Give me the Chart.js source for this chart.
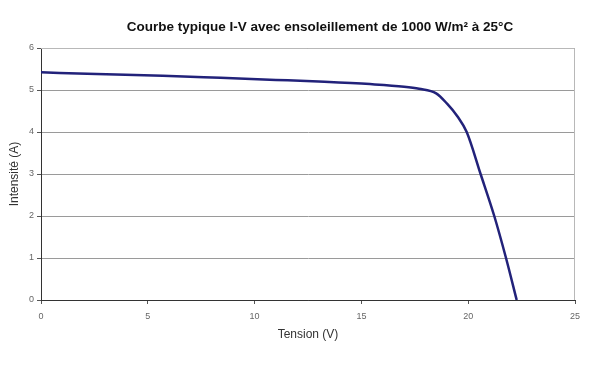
<!DOCTYPE html>
<html><head><meta charset="utf-8">
<script src="https://cdn.jsdelivr.net/npm/chart.js@4"></script>
<style>html,body{margin:0;padding:0;background:#fff}#wrap{width:593px;height:372px}</style>
</head><body><div id="wrap"><canvas id="c" width="593" height="372"></canvas></div>
<script>
const titleText = "Courbe typique I-V avec ensoleillement de 1000 W/m² à 25°C";
const xTitle = "Tension (V)";
const yTitle = "Intensité (A)";
const tensionV = [0, 2.6, 5.7, 8.4, 11, 13, 15.4, 17, 17.7, 18.5, 19.0, 19.5, 19.93, 20.58, 21.22, 21.77, 22.27];
const intensiteA = [5.42, 5.38, 5.34, 5.29, 5.24, 5.20, 5.14, 5.08, 5.03, 4.92, 4.68, 4.37, 4.00, 3.00, 2.00, 1.00, 0];
const xTicks = [0, 5, 10, 15, 20, 25];
const yTicks = [0, 1, 2, 3, 4, 5, 6];

const points = tensionV.map((v, i) => ({x: v, y: intensiteA[i]}));

const titlePlugin = {
  id: 'customTitle',
  afterDraw(chart) {
    const ctx = chart.ctx;
    ctx.save();
    ctx.font = 'bold 13.5px "Liberation Sans", Arial, sans-serif';
    ctx.fillStyle = '#111';
    ctx.textAlign = 'center';
    ctx.textBaseline = 'middle';
    ctx.fillText(titleText, 320, 27);
    ctx.restore();
  }
};
const borderPlugin = {
  id: 'plotBorder',
  beforeDatasetsDraw(chart) {
    const {ctx, chartArea: a} = chart;
    ctx.save();
    ctx.strokeStyle = '#b8b8b8';
    ctx.lineWidth = 1;
    ctx.beginPath();
    ctx.moveTo(a.left, a.top + 0.5);
    ctx.lineTo(a.right - 0.5, a.top + 0.5);
    ctx.lineTo(a.right - 0.5, a.bottom);
    ctx.stroke();
    ctx.restore();
  }
};

new Chart(document.getElementById('c'), {
  type: 'scatter',
  data: {
    datasets: [{
      data: points,
      showLine: true,
      borderColor: '#22227a',
      borderWidth: 2.5,
      pointRadius: 0,
      cubicInterpolationMode: 'monotone',
      fill: false
    }]
  },
  options: {
    responsive: false,
    animation: false,
    devicePixelRatio: 1,
    layout: {padding: {top: 48, right: 18, bottom: 26, left: 3}},
    plugins: {legend: {display: false}, tooltip: {enabled: false}, title: {display: false}},
    scales: {
      x: {
        type: 'linear', min: 0, max: 25,
        afterBuildTicks(s) { s.ticks = xTicks.map(v => ({value: v})); },
        afterFit(s) { s.height = 46; },
        grid: {display: true, drawOnChartArea: false, drawTicks: true, tickLength: 4, color: '#555'},
        border: {display: true, color: '#333', width: 1},
        ticks: {color: '#666', font: {size: 9, family: '"Liberation Sans", Arial, sans-serif'}, padding: 7, maxRotation: 0},
        title: {display: true, text: xTitle, color: '#333', font: {size: 12, family: '"Liberation Sans", Arial, sans-serif'}, padding: {top: 6}}
      },
      y: {
        type: 'linear', min: 0, max: 6,
        afterBuildTicks(s) { s.ticks = yTicks.map(v => ({value: v})); },
        afterFit(s) { s.width = 38; },
        grid: {display: true, color: (c) => c.tick && c.tick.value === 0 ? '#333' : '#9a9a9a', tickLength: 4, tickColor: '#555'},
        border: {display: true, color: '#333', width: 1},
        ticks: {color: '#666', font: {size: 9, family: '"Liberation Sans", Arial, sans-serif'}, padding: 3},
        title: {display: true, text: yTitle, color: '#333', font: {size: 12, family: '"Liberation Sans", Arial, sans-serif'}, padding: {bottom: 4}}
      }
    }
  },
  plugins: [titlePlugin, borderPlugin]
});
</script></body></html>
